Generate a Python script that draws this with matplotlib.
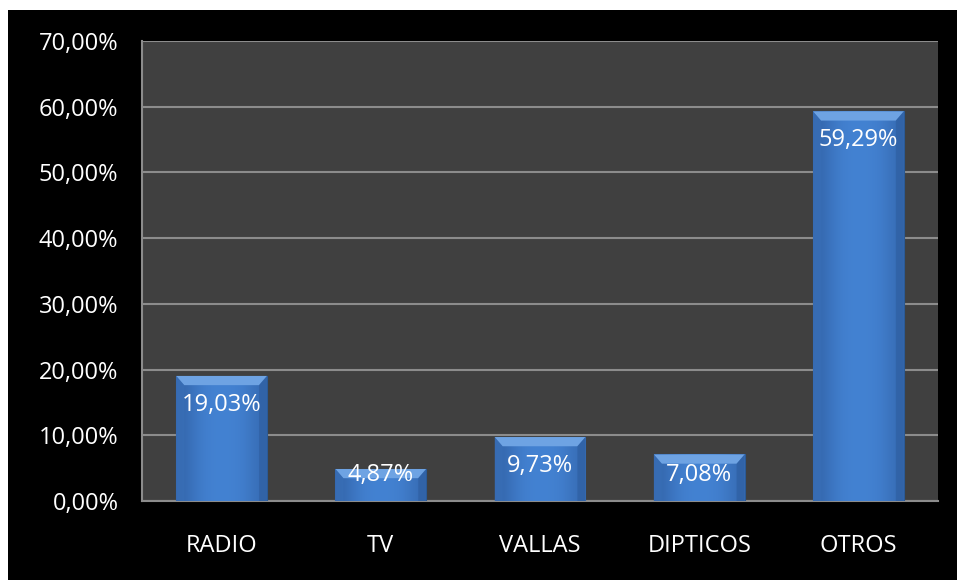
import numpy as np
import matplotlib
matplotlib.use("Agg")
import matplotlib.pyplot as plt
from matplotlib.patches import Rectangle, Polygon
from matplotlib.ticker import FuncFormatter

plt.rcParams['font.family'] = ['Open Sans', 'DejaVu Sans']

categories = ['RADIO', 'TV', 'VALLAS', 'DIPTICOS', 'OTROS']
values = [19.03, 4.87, 9.73, 7.08, 59.29]
labels = ['19,03%', '4,87%', '9,73%', '7,08%', '59,29%']

fig = plt.figure(figsize=(9.57, 5.8), dpi=100, facecolor='white')
# black chart area (white strip at top and left like the screenshot)
fig.patches.append(Rectangle((8 / 957, 0), 1, 570 / 580, transform=fig.transFigure,
                             facecolor='black', edgecolor='none', zorder=-10))

ax = fig.add_axes([142 / 957, 79 / 580, 796 / 957, 460 / 580])
ax.set_facecolor('#404040')
x = np.arange(len(categories))
width = 0.57
bars = ax.bar(x, values, width=width, color='#3f7bcb', edgecolor='#2b5a96',
              linewidth=0.8, zorder=3)

# soft horizontal shading + bevel
grad = np.array([[0.0, 0.75, 1.0, 1.0, 0.85, 0.2]])
cmap = matplotlib.colors.LinearSegmentedColormap.from_list('b', ['#3467ad', '#4382d2'])
for b, v in zip(bars, values):
    x0 = b.get_x()
    im = ax.imshow(grad, cmap=cmap, extent=(x0, x0 + width, 0, v), aspect='auto',
                   interpolation='bicubic', zorder=3.5)
    im.set_clip_path(b)
    dx, dy = 0.05, 1.4
    ax.add_patch(Polygon([(x0, v), (x0 + width, v), (x0 + width - dx, v - dy), (x0 + dx, v - dy)],
                         closed=True, facecolor='#6ea3e3', edgecolor='none', zorder=3.6))
    ax.add_patch(Polygon([(x0, v), (x0 + dx, v - dy), (x0 + dx, 0), (x0, 0)], closed=True,
                         facecolor='#3a70b8', edgecolor='none', alpha=0.5, zorder=3.6))
    ax.add_patch(Polygon([(x0 + width, v), (x0 + width - dx, v - dy), (x0 + width - dx, 0),
                          (x0 + width, 0)], closed=True,
                         facecolor='#2c5a9a', edgecolor='none', alpha=0.5, zorder=3.6))

# labels "inside end", but kept above the base for short bars
for xi, v, lab in zip(x, values, labels):
    ax.text(xi, max(v - 4.4, 4.0), lab, ha='center', va='center', color='white',
            fontsize=17, zorder=5)

ax.set_xlim(-0.5, len(categories) - 0.5)
ax.set_ylim(0, 70)
ax.set_yticks(np.arange(0, 71, 10))
ax.yaxis.set_major_formatter(FuncFormatter(lambda v, p: f'{v:.2f}'.replace('.', ',') + '%'))
ax.set_xticks(x)
ax.set_xticklabels(categories)
ax.grid(axis='y', color='#8c8c8c', linewidth=1.5, zorder=1)
ax.tick_params(colors='white', labelsize=17, length=0)
ax.tick_params(axis='y', pad=17)
ax.tick_params(axis='x', pad=24)
for s in ['top', 'right']:
    ax.spines[s].set_visible(False)
for s in ['left', 'bottom']:
    ax.spines[s].set_color('#8c8c8c')
    ax.spines[s].set_linewidth(1.5)

fig.savefig('out.png', dpi=100, facecolor=fig.get_facecolor())
